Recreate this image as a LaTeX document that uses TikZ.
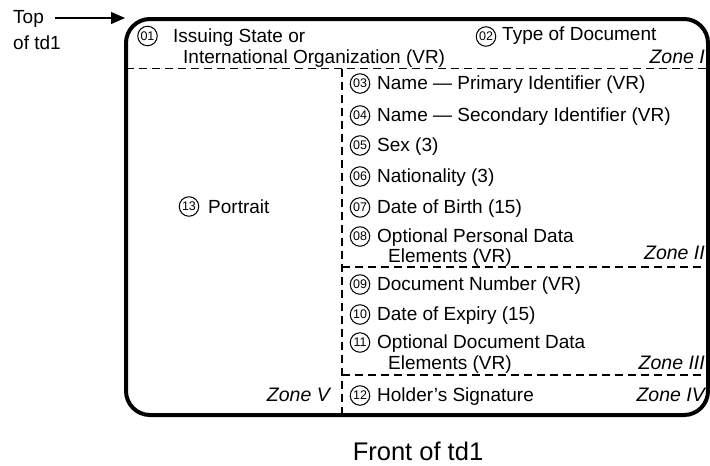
\documentclass[tikz,border=0pt]{standalone}
\usepackage{fontspec}
\setmainfont{Liberation Sans}
\usetikzlibrary{arrows.meta}
\begin{document}
\begin{tikzpicture}[x=1pt,y=-1pt,
  lbl/.style={anchor=base west, inner sep=0pt, font=\fontsize{19}{21}\selectfont},
  zonelbl/.style={anchor=base east, inner sep=0pt, font=\fontsize{19.5}{21}\selectfont\itshape},
  numcirc/.style={circle, draw, line width=1pt, minimum size=19.5pt, inner sep=0pt,
                  font=\fontsize{12.5}{12.5}\selectfont},
  frame/.style={line width=4pt, rounded corners=24pt},
  divider/.style={line width=1.8pt, dash pattern=on 8pt off 5pt},
  pointer/.style={line width=1.4pt, -{Triangle[length=14pt,width=12pt]}}]
\useasboundingbox (0,0) rectangle (710,466);

% card outline
\draw[frame] (126,19) rectangle (708,415);
\coordinate (corner) at (125,18);

% zone dividers
\draw[divider] (126,68.5) -- (708,68.5);
\draw[divider] (342,68.5) -- (342,415);
\draw[divider] (342,267) -- (708,267);
\draw[divider] (342,375) -- (708,375);

% pointer to the top edge
\node[lbl] (toplbl) at (13,23) {Top};
\node[lbl] (oftd) at (13,49) {of td1};
\coordinate (tail) at (55,18);
\draw[pointer] (tail) -- (corner);

% zone I
\node[numcirc] (c01) at (147.5,36) {01};
\node[lbl] (t01a) at (173,42) {Issuing State or};
\node[lbl] (t01b) at (183,63) {International Organization (VR)};
\node[numcirc] (c02) at (486,36.5) {02};
\node[lbl] (t02) at (502,40) {Type of Document};
\node[zonelbl] (z1) at (705,63) {Zone I};

% zone II
\node[numcirc] (c03) at (360,83.5) {03};
\node[lbl] (t03) at (377,89) {Name — Primary Identifier (VR)};
\node[numcirc] (c04) at (360,115.5) {04};
\node[lbl] (t04) at (377,121) {Name — Secondary Identifier (VR)};
\node[numcirc] (c05) at (360,145.5) {05};
\node[lbl] (t05) at (377,151) {Sex (3)};
\node[numcirc] (c06) at (360,176.5) {06};
\node[lbl] (t06) at (377,182) {Nationality (3)};
\node[numcirc] (c07) at (360,207.5) {07};
\node[lbl] (t07) at (377,213) {Date of Birth (15)};
\node[numcirc] (c08) at (360,236.5) {08};
\node[lbl] (t08a) at (377,242) {Optional Personal Data};
\node[lbl] (t08b) at (388,262) {Elements (VR)};
\node[zonelbl] (z2) at (705,259) {Zone II};

% zone III
\node[numcirc] (c09) at (360,284.5) {09};
\node[lbl] (t09) at (377,290) {Document Number (VR)};
\node[numcirc] (c10) at (360,314.5) {10};
\node[lbl] (t10) at (377,320) {Date of Expiry (15)};
\node[numcirc] (c11) at (360,342.5) {11};
\node[lbl] (t11a) at (377,348) {Optional Document Data};
\node[lbl] (t11b) at (388,369) {Elements (VR)};
\node[zonelbl] (z3) at (705,369) {Zone III};

% zone IV
\node[numcirc] (c12) at (360,395.5) {12};
\node[lbl] (t12) at (377,401) {Holder’s Signature};
\node[zonelbl] (z4) at (705,401) {Zone IV};

% zone V
\node[numcirc] (c13) at (189,206.5) {13};
\node[lbl] (t13) at (208,213) {Portrait};
\node[zonelbl] (z5) at (330,401) {Zone V};

% caption
\node[anchor=base, inner sep=0pt, font=\fontsize{25.5}{28}\selectfont] (caption) at (418,460) {Front of td1};
\end{tikzpicture}
\end{document}
